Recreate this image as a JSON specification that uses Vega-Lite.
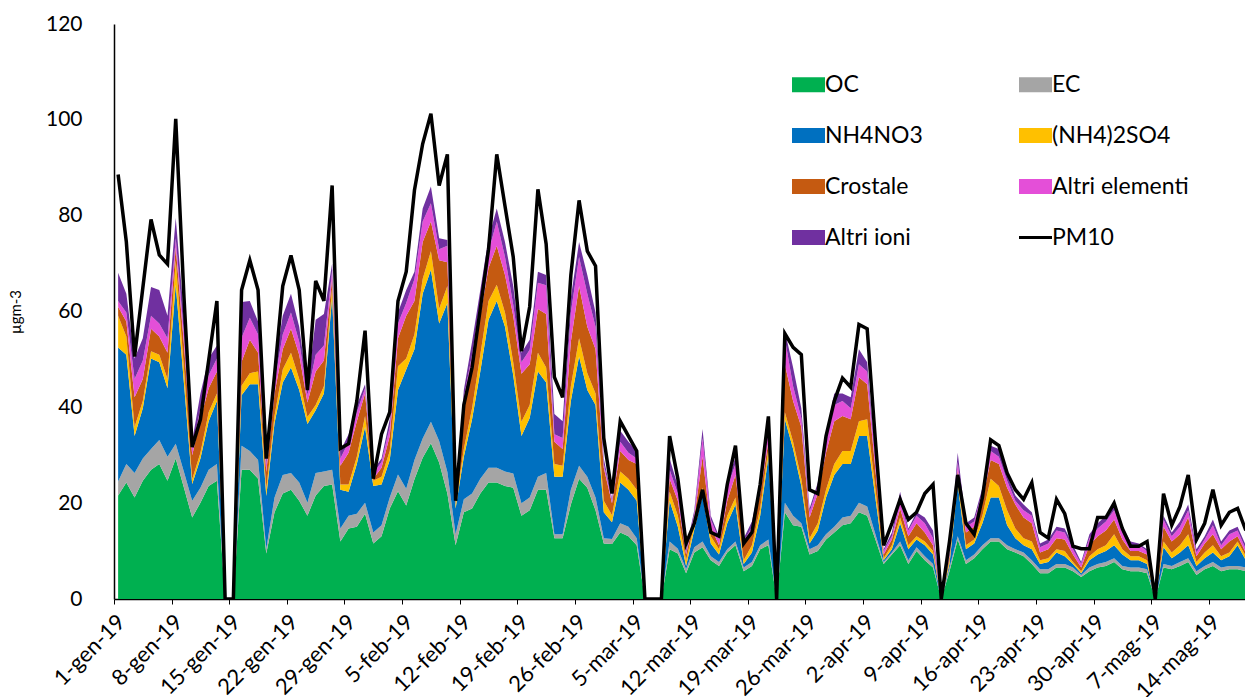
{
"$schema": "https://vega.github.io/schema/vega-lite/v6.json",
"width": 1131, "height": 575,
"autosize": {"type": "none"},
"padding": {"left": 114, "top": 24, "right": 0, "bottom": 98},
"background": "white",
"config": {"view": {"stroke": null}, "font": "Lato"},
"data": {"values": [
{"data":"2019-01-01","OC":21.6,"EC":2.9,"NH4NO3":28.0,"(NH4)2SO4":6.6,"Crostale":1.9,"Altri elementi":1.2,"Altri ioni":5.9,"PM10":88.6},
{"data":"2019-01-02","OC":24.3,"EC":3.9,"NH4NO3":22.8,"(NH4)2SO4":3.8,"Crostale":3.1,"Altri elementi":1.9,"Altri ioni":3.9,"PM10":74.5},
{"data":"2019-01-03","OC":21.2,"EC":5.1,"NH4NO3":7.7,"(NH4)2SO4":1.9,"Crostale":6.2,"Altri elementi":3.8,"Altri ioni":4.3,"PM10":50.6},
{"data":"2019-01-04","OC":24.7,"EC":4.6,"NH4NO3":10.5,"(NH4)2SO4":1.5,"Crostale":4.6,"Altri elementi":3.9,"Altri ioni":4.6,"PM10":64.9},
{"data":"2019-01-05","OC":27.0,"EC":4.3,"NH4NO3":18.9,"(NH4)2SO4":1.5,"Crostale":4.7,"Altri elementi":2.7,"Altri ioni":6.0,"PM10":79.2},
{"data":"2019-01-06","OC":28.2,"EC":5.0,"NH4NO3":16.2,"(NH4)2SO4":1.6,"Crostale":3.8,"Altri elementi":2.7,"Altri ioni":7.0,"PM10":71.8},
{"data":"2019-01-07","OC":24.7,"EC":5.0,"NH4NO3":14.3,"(NH4)2SO4":1.9,"Crostale":5.5,"Altri elementi":3.0,"Altri ioni":4.7,"PM10":69.9},
{"data":"2019-01-08","OC":29.3,"EC":3.1,"NH4NO3":33.2,"(NH4)2SO4":5.1,"Crostale":2.7,"Altri elementi":1.9,"Altri ioni":4.2,"PM10":100.2},
{"data":"2019-01-09","OC":23.2,"EC":3.3,"NH4NO3":18.5,"(NH4)2SO4":3.1,"Crostale":5.0,"Altri elementi":2.1,"Altri ioni":3.9,"PM10":63.0},
{"data":"2019-01-10","OC":17.0,"EC":3.5,"NH4NO3":3.5,"(NH4)2SO4":1.0,"Crostale":5.0,"Altri elementi":1.5,"Altri ioni":1.5,"PM10":31.7},
{"data":"2019-01-11","OC":20.1,"EC":3.1,"NH4NO3":6.1,"(NH4)2SO4":1.2,"Crostale":7.0,"Altri elementi":2.3,"Altri ioni":3.1,"PM10":37.5},
{"data":"2019-01-12","OC":23.6,"EC":3.4,"NH4NO3":10.1,"(NH4)2SO4":1.9,"Crostale":5.0,"Altri elementi":2.7,"Altri ioni":3.5,"PM10":49.8},
{"data":"2019-01-13","OC":24.7,"EC":3.5,"NH4NO3":13.1,"(NH4)2SO4":1.6,"Crostale":4.6,"Altri elementi":2.7,"Altri ioni":2.7,"PM10":62.2},
{"data":"2019-01-14","OC":0,"EC":0,"NH4NO3":0,"(NH4)2SO4":0,"Crostale":0,"Altri elementi":0,"Altri ioni":0,"PM10":0},
{"data":"2019-01-15","OC":0,"EC":0,"NH4NO3":0,"(NH4)2SO4":0,"Crostale":0,"Altri elementi":0,"Altri ioni":0,"PM10":0},
{"data":"2019-01-16","OC":27.0,"EC":5.0,"NH4NO3":10.5,"(NH4)2SO4":2.0,"Crostale":5.0,"Altri elementi":5.0,"Altri ioni":7.5,"PM10":64.5},
{"data":"2019-01-17","OC":27.0,"EC":3.9,"NH4NO3":13.9,"(NH4)2SO4":2.3,"Crostale":7.0,"Altri elementi":4.6,"Altri ioni":3.5,"PM10":70.7},
{"data":"2019-01-18","OC":25.1,"EC":3.9,"NH4NO3":15.8,"(NH4)2SO4":2.7,"Crostale":3.9,"Altri elementi":3.8,"Altri ioni":2.7,"PM10":64.5},
{"data":"2019-01-19","OC":9.5,"EC":1.0,"NH4NO3":11.0,"(NH4)2SO4":1.5,"Crostale":3.5,"Altri elementi":1.5,"Altri ioni":1.0,"PM10":29.3},
{"data":"2019-01-20","OC":18.1,"EC":3.1,"NH4NO3":15.5,"(NH4)2SO4":1.5,"Crostale":4.7,"Altri elementi":2.3,"Altri ioni":3.1,"PM10":46.7},
{"data":"2019-01-21","OC":22.0,"EC":3.9,"NH4NO3":19.3,"(NH4)2SO4":2.7,"Crostale":4.2,"Altri elementi":3.1,"Altri ioni":3.9,"PM10":65.3},
{"data":"2019-01-22","OC":22.8,"EC":3.5,"NH4NO3":22.0,"(NH4)2SO4":3.1,"Crostale":5.0,"Altri elementi":3.4,"Altri ioni":3.9,"PM10":71.7},
{"data":"2019-01-23","OC":20.5,"EC":3.8,"NH4NO3":19.3,"(NH4)2SO4":2.3,"Crostale":5.1,"Altri elementi":2.7,"Altri ioni":3.1,"PM10":64.5},
{"data":"2019-01-24","OC":17.4,"EC":2.7,"NH4NO3":16.4,"(NH4)2SO4":1.5,"Crostale":3.0,"Altri elementi":1.5,"Altri ioni":1.5,"PM10":43.6},
{"data":"2019-01-25","OC":21.6,"EC":4.7,"NH4NO3":13.1,"(NH4)2SO4":1.1,"Crostale":7.0,"Altri elementi":3.5,"Altri ioni":7.3,"PM10":66.4},
{"data":"2019-01-26","OC":23.6,"EC":3.0,"NH4NO3":16.3,"(NH4)2SO4":1.5,"Crostale":5.4,"Altri elementi":3.1,"Altri ioni":6.6,"PM10":62.2},
{"data":"2019-01-27","OC":23.9,"EC":3.1,"NH4NO3":36.0,"(NH4)2SO4":2.0,"Crostale":2.0,"Altri elementi":1.5,"Altri ioni":1.5,"PM10":86.3},
{"data":"2019-01-28","OC":12.0,"EC":2.7,"NH4NO3":8.1,"(NH4)2SO4":1.1,"Crostale":3.9,"Altri elementi":1.5,"Altri ioni":1.6,"PM10":31.4},
{"data":"2019-01-29","OC":14.7,"EC":2.7,"NH4NO3":5.0,"(NH4)2SO4":1.5,"Crostale":6.6,"Altri elementi":2.3,"Altri ioni":1.6,"PM10":32.4},
{"data":"2019-01-30","OC":15.1,"EC":2.7,"NH4NO3":10.4,"(NH4)2SO4":1.5,"Crostale":7.4,"Altri elementi":1.9,"Altri ioni":1.5,"PM10":41.3},
{"data":"2019-01-31","OC":17.8,"EC":2.3,"NH4NO3":15.8,"(NH4)2SO4":2.3,"Crostale":4.7,"Altri elementi":1.1,"Altri ioni":0.8,"PM10":56.0},
{"data":"2019-02-01","OC":11.6,"EC":2.3,"NH4NO3":9.7,"(NH4)2SO4":1.1,"Crostale":0.4,"Altri elementi":1.2,"Altri ioni":0.7,"PM10":25.1},
{"data":"2019-02-02","OC":13.1,"EC":2.3,"NH4NO3":8.5,"(NH4)2SO4":1.6,"Crostale":1.9,"Altri elementi":1.2,"Altri ioni":0.7,"PM10":34.4},
{"data":"2019-02-03","OC":18.9,"EC":2.3,"NH4NO3":7.8,"(NH4)2SO4":1.9,"Crostale":3.1,"Altri elementi":1.9,"Altri ioni":1.6,"PM10":39.0},
{"data":"2019-02-04","OC":22.5,"EC":3.5,"NH4NO3":17.6,"(NH4)2SO4":5.0,"Crostale":5.8,"Altri elementi":3.1,"Altri ioni":2.3,"PM10":62.2},
{"data":"2019-02-05","OC":19.5,"EC":3.5,"NH4NO3":24.9,"(NH4)2SO4":2.3,"Crostale":8.9,"Altri elementi":2.7,"Altri ioni":2.7,"PM10":68.3},
{"data":"2019-02-06","OC":25.0,"EC":4.0,"NH4NO3":23.1,"(NH4)2SO4":3.1,"Crostale":7.0,"Altri elementi":4.6,"Altri ioni":1.5,"PM10":85.3},
{"data":"2019-02-07","OC":29.5,"EC":4.0,"NH4NO3":30.2,"(NH4)2SO4":3.1,"Crostale":7.7,"Altri elementi":4.3,"Altri ioni":2.7,"PM10":95.0},
{"data":"2019-02-08","OC":32.5,"EC":4.5,"NH4NO3":31.7,"(NH4)2SO4":3.9,"Crostale":6.2,"Altri elementi":3.8,"Altri ioni":3.5,"PM10":101.3},
{"data":"2019-02-09","OC":28.5,"EC":4.5,"NH4NO3":24.5,"(NH4)2SO4":3.1,"Crostale":10.1,"Altri elementi":2.3,"Altri ioni":2.3,"PM10":86.3},
{"data":"2019-02-10","OC":22.0,"EC":4.5,"NH4NO3":35.3,"(NH4)2SO4":3.5,"Crostale":5.0,"Altri elementi":3.4,"Altri ioni":1.2,"PM10":92.8},
{"data":"2019-02-11","OC":11.2,"EC":2.3,"NH4NO3":5.4,"(NH4)2SO4":0.8,"Crostale":1.1,"Altri elementi":0.4,"Altri ioni":0.4,"PM10":20.5},
{"data":"2019-02-12","OC":18.1,"EC":2.7,"NH4NO3":8.9,"(NH4)2SO4":1.6,"Crostale":9.2,"Altri elementi":1.6,"Altri ioni":1.5,"PM10":40.5},
{"data":"2019-02-13","OC":18.9,"EC":3.1,"NH4NO3":15.5,"(NH4)2SO4":2.3,"Crostale":8.8,"Altri elementi":2.4,"Altri ioni":2.7,"PM10":48.3},
{"data":"2019-02-14","OC":22.0,"EC":3.1,"NH4NO3":22.4,"(NH4)2SO4":3.5,"Crostale":8.1,"Altri elementi":3.1,"Altri ioni":2.3,"PM10":60.6},
{"data":"2019-02-15","OC":24.3,"EC":3.1,"NH4NO3":30.9,"(NH4)2SO4":3.9,"Crostale":6.9,"Altri elementi":3.5,"Altri ioni":2.7,"PM10":73.0},
{"data":"2019-02-16","OC":24.3,"EC":3.1,"NH4NO3":34.8,"(NH4)2SO4":3.4,"Crostale":8.1,"Altri elementi":5.1,"Altri ioni":2.7,"PM10":92.8},
{"data":"2019-02-17","OC":23.6,"EC":3.0,"NH4NO3":30.2,"(NH4)2SO4":3.0,"Crostale":7.8,"Altri elementi":3.8,"Altri ioni":3.1,"PM10":82.0},
{"data":"2019-02-18","OC":23.2,"EC":3.0,"NH4NO3":20.5,"(NH4)2SO4":2.7,"Crostale":9.7,"Altri elementi":2.3,"Altri ioni":3.9,"PM10":71.4},
{"data":"2019-02-19","OC":17.4,"EC":2.6,"NH4NO3":14.0,"(NH4)2SO4":3.0,"Crostale":10.0,"Altri elementi":2.4,"Altri ioni":2.0,"PM10":51.7},
{"data":"2019-02-20","OC":18.5,"EC":2.7,"NH4NO3":16.6,"(NH4)2SO4":2.7,"Crostale":8.5,"Altri elementi":3.0,"Altri ioni":2.1,"PM10":61.0},
{"data":"2019-02-21","OC":22.8,"EC":2.7,"NH4NO3":22.0,"(NH4)2SO4":3.9,"Crostale":9.1,"Altri elementi":5.5,"Altri ioni":2.3,"PM10":85.5},
{"data":"2019-02-22","OC":22.8,"EC":3.5,"NH4NO3":18.9,"(NH4)2SO4":3.1,"Crostale":11.2,"Altri elementi":6.0,"Altri ioni":2.1,"PM10":74.1},
{"data":"2019-02-23","OC":12.7,"EC":0.8,"NH4NO3":12.0,"(NH4)2SO4":2.7,"Crostale":4.6,"Altri elementi":1.6,"Altri ioni":4.2,"PM10":46.3},
{"data":"2019-02-24","OC":12.7,"EC":0.8,"NH4NO3":12.0,"(NH4)2SO4":2.3,"Crostale":3.5,"Altri elementi":2.3,"Altri ioni":3.5,"PM10":42.1},
{"data":"2019-02-25","OC":19.7,"EC":3.1,"NH4NO3":18.5,"(NH4)2SO4":3.1,"Crostale":9.3,"Altri elementi":6.1,"Altri ioni":3.1,"PM10":67.6},
{"data":"2019-02-26","OC":25.1,"EC":2.7,"NH4NO3":22.8,"(NH4)2SO4":3.8,"Crostale":10.9,"Altri elementi":6.1,"Altri ioni":3.1,"PM10":83.2},
{"data":"2019-02-27","OC":23.2,"EC":2.3,"NH4NO3":18.1,"(NH4)2SO4":3.5,"Crostale":9.7,"Altri elementi":6.9,"Altri ioni":3.9,"PM10":72.6},
{"data":"2019-02-28","OC":18.5,"EC":2.7,"NH4NO3":19.3,"(NH4)2SO4":2.4,"Crostale":9.2,"Altri elementi":4.7,"Altri ioni":3.0,"PM10":69.5},
{"data":"2019-03-01","OC":11.6,"EC":1.1,"NH4NO3":5.4,"(NH4)2SO4":2.4,"Crostale":6.9,"Altri elementi":0.8,"Altri ioni":1.1,"PM10":33.6},
{"data":"2019-03-02","OC":11.5,"EC":1.0,"NH4NO3":3.5,"(NH4)2SO4":1.5,"Crostale":2.5,"Altri elementi":0.5,"Altri ioni":0.5,"PM10":22.0},
{"data":"2019-03-03","OC":13.9,"EC":1.9,"NH4NO3":8.5,"(NH4)2SO4":2.3,"Crostale":4.3,"Altri elementi":1.9,"Altri ioni":2.3,"PM10":37.1},
{"data":"2019-03-04","OC":13.1,"EC":2.0,"NH4NO3":7.7,"(NH4)2SO4":2.3,"Crostale":3.9,"Altri elementi":1.5,"Altri ioni":2.3,"PM10":34.0},
{"data":"2019-03-05","OC":11.2,"EC":1.5,"NH4NO3":7.8,"(NH4)2SO4":2.3,"Crostale":5.4,"Altri elementi":1.1,"Altri ioni":1.6,"PM10":30.9},
{"data":"2019-03-06","OC":0,"EC":0,"NH4NO3":0,"(NH4)2SO4":0,"Crostale":0,"Altri elementi":0,"Altri ioni":0,"PM10":0},
{"data":"2019-03-07","OC":0,"EC":0,"NH4NO3":0,"(NH4)2SO4":0,"Crostale":0,"Altri elementi":0,"Altri ioni":0,"PM10":0},
{"data":"2019-03-08","OC":0,"EC":0,"NH4NO3":0,"(NH4)2SO4":0,"Crostale":0,"Altri elementi":0,"Altri ioni":0,"PM10":0},
{"data":"2019-03-09","OC":10.4,"EC":1.6,"NH4NO3":8.5,"(NH4)2SO4":1.9,"Crostale":2.7,"Altri elementi":1.9,"Altri ioni":2.3,"PM10":34.0},
{"data":"2019-03-10","OC":9.5,"EC":1.0,"NH4NO3":4.6,"(NH4)2SO4":2.3,"Crostale":3.1,"Altri elementi":1.5,"Altri ioni":1.6,"PM10":25.1},
{"data":"2019-03-11","OC":5.4,"EC":0.8,"NH4NO3":0.7,"(NH4)2SO4":1.2,"Crostale":1.2,"Altri elementi":0.4,"Altri ioni":0.7,"PM10":11.6},
{"data":"2019-03-12","OC":9.7,"EC":1.1,"NH4NO3":3.7,"(NH4)2SO4":1.0,"Crostale":1.5,"Altri elementi":0.8,"Altri ioni":0.7,"PM10":15.8},
{"data":"2019-03-13","OC":10.8,"EC":1.2,"NH4NO3":9.6,"(NH4)2SO4":1.6,"Crostale":6.5,"Altri elementi":3.9,"Altri ioni":1.9,"PM10":22.8},
{"data":"2019-03-14","OC":8.1,"EC":0.8,"NH4NO3":2.7,"(NH4)2SO4":1.5,"Crostale":2.0,"Altri elementi":1.5,"Altri ioni":0.8,"PM10":13.9},
{"data":"2019-03-15","OC":6.9,"EC":0.8,"NH4NO3":1.6,"(NH4)2SO4":1.1,"Crostale":0.8,"Altri elementi":1.2,"Altri ioni":0.7,"PM10":13.1},
{"data":"2019-03-16","OC":9.7,"EC":0.7,"NH4NO3":5.4,"(NH4)2SO4":1.6,"Crostale":3.1,"Altri elementi":2.7,"Altri ioni":1.1,"PM10":23.9},
{"data":"2019-03-17","OC":11.2,"EC":0.8,"NH4NO3":7.7,"(NH4)2SO4":1.5,"Crostale":4.7,"Altri elementi":2.3,"Altri ioni":1.5,"PM10":32.0},
{"data":"2019-03-18","OC":5.8,"EC":0.8,"NH4NO3":0.7,"(NH4)2SO4":0.8,"Crostale":3.1,"Altri elementi":0.8,"Altri ioni":0.7,"PM10":11.6},
{"data":"2019-03-19","OC":6.9,"EC":0.8,"NH4NO3":2.0,"(NH4)2SO4":1.5,"Crostale":3.1,"Altri elementi":0.8,"Altri ioni":1.1,"PM10":13.9},
{"data":"2019-03-20","OC":10.4,"EC":0.8,"NH4NO3":6.2,"(NH4)2SO4":1.5,"Crostale":3.1,"Altri elementi":1.2,"Altri ioni":1.1,"PM10":23.9},
{"data":"2019-03-21","OC":11.2,"EC":1.2,"NH4NO3":17.3,"(NH4)2SO4":1.6,"Crostale":1.5,"Altri elementi":3.1,"Altri ioni":1.6,"PM10":38.1},
{"data":"2019-03-22","OC":0,"EC":0,"NH4NO3":0,"(NH4)2SO4":0,"Crostale":0,"Altri elementi":0,"Altri ioni":0,"PM10":0},
{"data":"2019-03-23","OC":18.1,"EC":2.0,"NH4NO3":17.4,"(NH4)2SO4":1.5,"Crostale":10.0,"Altri elementi":5.4,"Altri ioni":1.6,"PM10":55.4},
{"data":"2019-03-24","OC":15.4,"EC":2.0,"NH4NO3":13.9,"(NH4)2SO4":1.5,"Crostale":8.5,"Altri elementi":3.1,"Altri ioni":3.9,"PM10":52.5},
{"data":"2019-03-25","OC":15.1,"EC":0.7,"NH4NO3":7.8,"(NH4)2SO4":1.5,"Crostale":10.8,"Altri elementi":1.9,"Altri ioni":2.0,"PM10":51.0},
{"data":"2019-03-26","OC":9.3,"EC":1.1,"NH4NO3":1.2,"(NH4)2SO4":1.1,"Crostale":4.3,"Altri elementi":1.1,"Altri ioni":0.8,"PM10":22.8},
{"data":"2019-03-27","OC":10.0,"EC":1.2,"NH4NO3":3.1,"(NH4)2SO4":1.5,"Crostale":6.2,"Altri elementi":1.6,"Altri ioni":0.7,"PM10":22.0},
{"data":"2019-03-28","OC":12.4,"EC":1.1,"NH4NO3":7.7,"(NH4)2SO4":1.6,"Crostale":7.7,"Altri elementi":2.3,"Altri ioni":1.6,"PM10":34.0},
{"data":"2019-03-29","OC":13.9,"EC":1.2,"NH4NO3":10.8,"(NH4)2SO4":2.3,"Crostale":8.9,"Altri elementi":3.4,"Altri ioni":2.4,"PM10":41.3},
{"data":"2019-03-30","OC":15.4,"EC":1.6,"NH4NO3":11.2,"(NH4)2SO4":2.7,"Crostale":7.3,"Altri elementi":3.1,"Altri ioni":1.6,"PM10":46.1},
{"data":"2019-03-31","OC":15.8,"EC":1.6,"NH4NO3":10.8,"(NH4)2SO4":2.7,"Crostale":6.6,"Altri elementi":2.3,"Altri ioni":2.3,"PM10":44.2},
{"data":"2019-04-01","OC":18.1,"EC":2.0,"NH4NO3":13.9,"(NH4)2SO4":3.1,"Crostale":9.2,"Altri elementi":2.7,"Altri ioni":3.1,"PM10":57.3},
{"data":"2019-04-02","OC":17.4,"EC":1.9,"NH4NO3":14.7,"(NH4)2SO4":3.5,"Crostale":7.3,"Altri elementi":2.7,"Altri ioni":1.9,"PM10":56.4},
{"data":"2019-04-03","OC":12.4,"EC":1.1,"NH4NO3":7.6,"(NH4)2SO4":1.9,"Crostale":4.0,"Altri elementi":1.8,"Altri ioni":1.1,"PM10":33.0},
{"data":"2019-04-04","OC":7.3,"EC":0.4,"NH4NO3":0.4,"(NH4)2SO4":0.4,"Crostale":0.8,"Altri elementi":0.7,"Altri ioni":0.4,"PM10":11.2},
{"data":"2019-04-05","OC":9.3,"EC":0.4,"NH4NO3":0.7,"(NH4)2SO4":0.8,"Crostale":1.2,"Altri elementi":0.7,"Altri ioni":0.8,"PM10":15.8},
{"data":"2019-04-06","OC":11.2,"EC":0.8,"NH4NO3":3.8,"(NH4)2SO4":1.2,"Crostale":1.9,"Altri elementi":1.6,"Altri ioni":1.9,"PM10":20.8},
{"data":"2019-04-07","OC":7.3,"EC":0.8,"NH4NO3":2.3,"(NH4)2SO4":0.8,"Crostale":1.9,"Altri elementi":1.2,"Altri ioni":0.4,"PM10":16.6},
{"data":"2019-04-08","OC":10.0,"EC":0.8,"NH4NO3":1.6,"(NH4)2SO4":0.7,"Crostale":2.7,"Altri elementi":1.6,"Altri ioni":0.7,"PM10":18.1},
{"data":"2019-04-09","OC":8.1,"EC":0.8,"NH4NO3":2.3,"(NH4)2SO4":0.8,"Crostale":1.9,"Altri elementi":1.9,"Altri ioni":1.2,"PM10":22.0},
{"data":"2019-04-10","OC":6.6,"EC":0.7,"NH4NO3":2.0,"(NH4)2SO4":0.7,"Crostale":1.2,"Altri elementi":1.5,"Altri ioni":1.6,"PM10":23.9},
{"data":"2019-04-11","OC":0,"EC":0,"NH4NO3":0,"(NH4)2SO4":0,"Crostale":0,"Altri elementi":0,"Altri ioni":0,"PM10":0},
{"data":"2019-04-12","OC":5.8,"EC":0.8,"NH4NO3":0.7,"(NH4)2SO4":0.8,"Crostale":0.8,"Altri elementi":0.4,"Altri ioni":0.4,"PM10":12.0},
{"data":"2019-04-13","OC":12.4,"EC":0.7,"NH4NO3":10.8,"(NH4)2SO4":1.2,"Crostale":1.9,"Altri elementi":1.6,"Altri ioni":1.9,"PM10":25.9},
{"data":"2019-04-14","OC":7.3,"EC":0.8,"NH4NO3":2.3,"(NH4)2SO4":0.8,"Crostale":2.7,"Altri elementi":1.2,"Altri ioni":0.7,"PM10":15.8},
{"data":"2019-04-15","OC":8.5,"EC":0.8,"NH4NO3":2.3,"(NH4)2SO4":0.8,"Crostale":2.7,"Altri elementi":1.1,"Altri ioni":0.8,"PM10":13.5},
{"data":"2019-04-16","OC":10.4,"EC":0.8,"NH4NO3":4.6,"(NH4)2SO4":1.6,"Crostale":3.1,"Altri elementi":1.9,"Altri ioni":0.8,"PM10":21.2},
{"data":"2019-04-17","OC":12.0,"EC":0.7,"NH4NO3":8.5,"(NH4)2SO4":3.9,"Crostale":3.9,"Altri elementi":1.9,"Altri ioni":1.1,"PM10":33.2},
{"data":"2019-04-18","OC":12.0,"EC":0.7,"NH4NO3":8.5,"(NH4)2SO4":2.4,"Crostale":4.6,"Altri elementi":1.5,"Altri ioni":1.6,"PM10":32.0},
{"data":"2019-04-19","OC":10.4,"EC":0.8,"NH4NO3":4.2,"(NH4)2SO4":3.1,"Crostale":4.7,"Altri elementi":1.5,"Altri ioni":1.2,"PM10":26.3},
{"data":"2019-04-20","OC":9.7,"EC":0.7,"NH4NO3":2.3,"(NH4)2SO4":2.0,"Crostale":5.0,"Altri elementi":0.8,"Altri ioni":1.1,"PM10":22.8},
{"data":"2019-04-21","OC":8.9,"EC":0.8,"NH4NO3":1.5,"(NH4)2SO4":1.5,"Crostale":4.3,"Altri elementi":1.5,"Altri ioni":1.2,"PM10":20.8},
{"data":"2019-04-22","OC":7.3,"EC":0.8,"NH4NO3":2.3,"(NH4)2SO4":1.6,"Crostale":3.8,"Altri elementi":1.6,"Altri ioni":0.7,"PM10":24.3},
{"data":"2019-04-23","OC":5.4,"EC":0.8,"NH4NO3":1.1,"(NH4)2SO4":0.8,"Crostale":1.6,"Altri elementi":1.1,"Altri ioni":0.8,"PM10":13.9},
{"data":"2019-04-24","OC":5.4,"EC":0.8,"NH4NO3":1.5,"(NH4)2SO4":0.8,"Crostale":1.9,"Altri elementi":1.2,"Altri ioni":0.8,"PM10":12.7},
{"data":"2019-04-25","OC":6.6,"EC":0.7,"NH4NO3":2.4,"(NH4)2SO4":0.7,"Crostale":2.3,"Altri elementi":1.6,"Altri ioni":0.8,"PM10":20.8},
{"data":"2019-04-26","OC":6.6,"EC":0.7,"NH4NO3":1.6,"(NH4)2SO4":1.1,"Crostale":2.4,"Altri elementi":1.5,"Altri ioni":0.8,"PM10":17.8},
{"data":"2019-04-27","OC":5.8,"EC":0.8,"NH4NO3":0.7,"(NH4)2SO4":0.4,"Crostale":1.6,"Altri elementi":1.1,"Altri ioni":0.8,"PM10":11.0},
{"data":"2019-04-28","OC":4.6,"EC":0.4,"NH4NO3":0.4,"(NH4)2SO4":0.4,"Crostale":0.8,"Altri elementi":0.7,"Altri ioni":0.4,"PM10":10.5},
{"data":"2019-04-29","OC":5.8,"EC":0.8,"NH4NO3":1.5,"(NH4)2SO4":0.8,"Crostale":2.3,"Altri elementi":1.5,"Altri ioni":0.8,"PM10":10.5},
{"data":"2019-04-30","OC":6.6,"EC":0.7,"NH4NO3":2.0,"(NH4)2SO4":1.1,"Crostale":2.7,"Altri elementi":1.6,"Altri ioni":1.1,"PM10":17.0},
{"data":"2019-05-01","OC":6.9,"EC":0.8,"NH4NO3":2.3,"(NH4)2SO4":1.2,"Crostale":3.1,"Altri elementi":1.9,"Altri ioni":1.2,"PM10":17.0},
{"data":"2019-05-02","OC":7.7,"EC":0.8,"NH4NO3":2.7,"(NH4)2SO4":2.3,"Crostale":3.1,"Altri elementi":1.9,"Altri ioni":1.6,"PM10":20.0},
{"data":"2019-05-03","OC":6.2,"EC":0.7,"NH4NO3":2.4,"(NH4)2SO4":1.1,"Crostale":2.0,"Altri elementi":1.5,"Altri ioni":1.2,"PM10":14.7},
{"data":"2019-05-04","OC":5.8,"EC":0.8,"NH4NO3":1.5,"(NH4)2SO4":0.8,"Crostale":1.1,"Altri elementi":1.2,"Altri ioni":0.8,"PM10":11.0},
{"data":"2019-05-05","OC":5.8,"EC":0.8,"NH4NO3":1.5,"(NH4)2SO4":0.8,"Crostale":1.1,"Altri elementi":1.2,"Altri ioni":0.4,"PM10":11.0},
{"data":"2019-05-06","OC":5.4,"EC":0.8,"NH4NO3":1.1,"(NH4)2SO4":0.8,"Crostale":1.2,"Altri elementi":0.7,"Altri ioni":0.4,"PM10":12.0},
{"data":"2019-05-07","OC":0,"EC":0,"NH4NO3":0,"(NH4)2SO4":0,"Crostale":0,"Altri elementi":0,"Altri ioni":0,"PM10":0},
{"data":"2019-05-08","OC":6.6,"EC":0.7,"NH4NO3":3.5,"(NH4)2SO4":1.2,"Crostale":3.1,"Altri elementi":1.5,"Altri ioni":0.8,"PM10":22.0},
{"data":"2019-05-09","OC":6.2,"EC":0.7,"NH4NO3":1.6,"(NH4)2SO4":1.2,"Crostale":2.3,"Altri elementi":1.1,"Altri ioni":0.8,"PM10":15.4},
{"data":"2019-05-10","OC":6.9,"EC":0.8,"NH4NO3":2.0,"(NH4)2SO4":1.5,"Crostale":2.3,"Altri elementi":1.6,"Altri ioni":1.1,"PM10":19.3},
{"data":"2019-05-11","OC":7.7,"EC":0.8,"NH4NO3":2.7,"(NH4)2SO4":2.3,"Crostale":3.5,"Altri elementi":1.5,"Altri ioni":1.2,"PM10":25.9},
{"data":"2019-05-12","OC":5.0,"EC":0.8,"NH4NO3":1.1,"(NH4)2SO4":0.8,"Crostale":1.2,"Altri elementi":0.8,"Altri ioni":0.7,"PM10":12.4},
{"data":"2019-05-13","OC":6.2,"EC":0.7,"NH4NO3":1.6,"(NH4)2SO4":1.2,"Crostale":1.9,"Altri elementi":0.8,"Altri ioni":0.7,"PM10":15.8},
{"data":"2019-05-14","OC":6.9,"EC":0.8,"NH4NO3":2.0,"(NH4)2SO4":1.5,"Crostale":2.3,"Altri elementi":1.9,"Altri ioni":1.2,"PM10":22.8},
{"data":"2019-05-15","OC":5.8,"EC":0.8,"NH4NO3":1.5,"(NH4)2SO4":0.8,"Crostale":1.5,"Altri elementi":0.8,"Altri ioni":0.8,"PM10":15.4},
{"data":"2019-05-16","OC":6.2,"EC":0.7,"NH4NO3":2.0,"(NH4)2SO4":0.8,"Crostale":2.3,"Altri elementi":1.5,"Altri ioni":0.8,"PM10":18.1},
{"data":"2019-05-17","OC":6.2,"EC":0.7,"NH4NO3":4.3,"(NH4)2SO4":0.8,"Crostale":1.1,"Altri elementi":1.2,"Altri ioni":0.8,"PM10":18.9},
{"data":"2019-05-18","OC":5.8,"EC":0.8,"NH4NO3":1.5,"(NH4)2SO4":0.8,"Crostale":0.8,"Altri elementi":0.7,"Altri ioni":0.8,"PM10":14.3}
]},
"layer": [
{
"transform": [
{"fold": ["OC","EC","NH4NO3","(NH4)2SO4","Crostale","Altri elementi","Altri ioni"], "as": ["comp","val"]},
{"calculate": "indexof(['OC','EC','NH4NO3','(NH4)2SO4','Crostale','Altri elementi','Altri ioni'], datum.comp)", "as": "ord"}
],
"mark": {"type": "area", "interpolate": "linear", "clip": true},
"encoding": {
"x": {"field": "data", "type": "temporal", "title": null,
"scale": {"type": "utc", "domain": [1546257600000, 1558128960000]},
"axis": {"values": [1546257600000,1546862400000,1547467200000,1548072000000,1548676800000,1549281600000,1549886400000,1550491200000,1551096000000,1551700800000,1552305600000,1552910400000,1553515200000,1554120000000,1554724800000,1555329600000,1555934400000,1556539200000,1557144000000,1557748800000],
"labelExpr": "utcdate(time(datum.value) + 43200000) + '-' + ['gen','feb','mar','apr','mag','giu'][utcmonth(time(datum.value) + 43200000)] + '-19'",
"labelAngle": -45, "labelFont": "Lato", "labelFontSize": 22, "labelColor": "black", "labelPadding": 7,
"domainColor": "black", "domainWidth": 1.5, "tickColor": "black", "tickSize": 5, "grid": false, "labelOverlap": false, "labelBound": false}},
"y": {"field": "val", "type": "quantitative", "stack": "zero", "title": "µgm-3",
"scale": {"domain": [0, 120], "nice": false},
"axis": {"values": [0,20,40,60,80,100,120], "ticks": false, "grid": false, "domainColor": "black", "domainWidth": 1.5,
"labelFont": "Lato", "labelFontSize": 21, "labelColor": "black", "labelPadding": 32,
"titleFont": "Lato", "titleFontSize": 15, "titleFontWeight": "normal", "titleColor": "black", "titlePadding": 22}},
"order": {"field": "ord", "type": "quantitative", "sort": "ascending"},
"color": {"field": "comp", "type": "nominal",
"scale": {"domain": ["OC","EC","NH4NO3","(NH4)2SO4","Crostale","Altri elementi","Altri ioni","PM10"],
"range": ["#00B050","#A5A5A5","#0070C0","#FFC000","#C55A11","#E44FD8","#7030A0","#000000"]},
"legend": {"title": null, "orient": "none", "legendX": 683, "legendY": 49, "direction": "horizontal", "columns": 2, "columnPadding": 90, "rowPadding": 27,
"symbolType": "M-1,-0.45H1V0.45H-1Z", "symbolSize": 1089, "labelFont": "Lato", "labelFontSize": 23, "labelColor": "black", "labelOffset": 5, "labelLimit": 400,
"encode": {"symbols": {"update": {
"shape": {"signal": "datum.value === 'PM10' ? 'M-1,0H1' : 'M-1,-0.45H1V0.45H-1Z'"},
"fill": {"signal": "datum.value === 'PM10' ? 'transparent' : scale('color', datum.value)"},
"stroke": {"signal": "datum.value === 'PM10' ? 'black' : 'transparent'"},
"strokeWidth": {"signal": "datum.value === 'PM10' ? 3 : 0"},
"opacity": {"value": 1}}}}}}
}
},
{
"mark": {"type": "line", "strokeWidth": 3.5, "clip": true, "strokeJoin": "miter"},
"encoding": {
"x": {"field": "data", "type": "temporal", "title": null},
"y": {"field": "PM10", "type": "quantitative", "title": "µgm-3"},
"color": {"datum": "PM10"}
}
}
]
}
